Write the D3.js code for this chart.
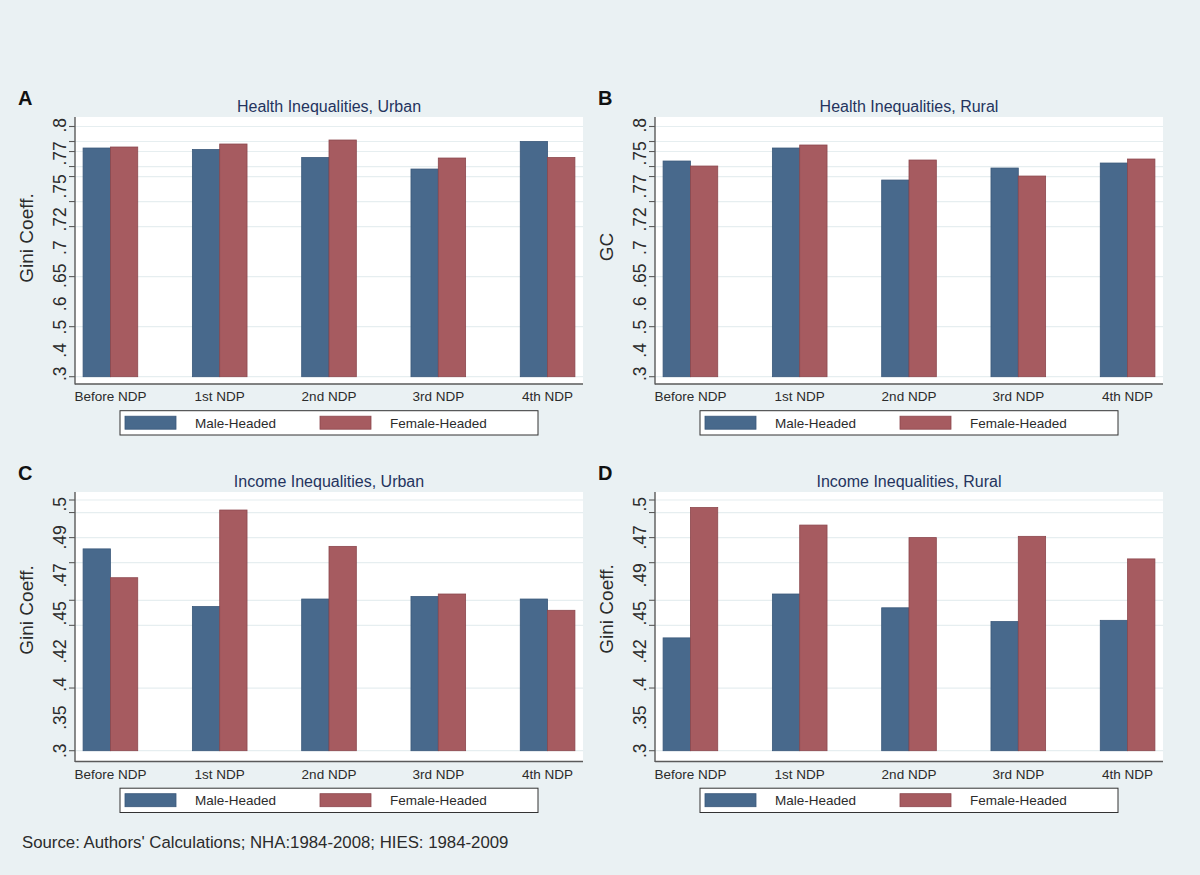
<!DOCTYPE html>
<html>
<head>
<meta charset="utf-8">
<script src="https://cdn.jsdelivr.net/npm/d3@7"></script>
<style>
  html, body { margin: 0; padding: 0; background: #eaf1f3; }
  svg { display: block; font-family: Arial, "Liberation Sans", Helvetica, sans-serif; }
</style>
</head>
<body>
<svg id="chart" width="1200" height="875"></svg>
<script>
// ---------------- DATA ----------------
const categories = ["Before NDP", "1st NDP", "2nd NDP", "3rd NDP", "4th NDP"];
const seriesNames = ["Male-Headed", "Female-Headed"];

const healthUrbanMale   = [0.757, 0.754, 0.738, 0.715, 0.770];
const healthUrbanFemale = [0.759, 0.765, 0.773, 0.737, 0.738];
const healthRuralMale   = [0.731, 0.757, 0.693, 0.717, 0.727];
const healthRuralFemale = [0.721, 0.763, 0.733, 0.701, 0.735];
const incomeUrbanMale   = [0.461, 0.415, 0.421, 0.423, 0.421];
const incomeUrbanFemale = [0.438, 0.492, 0.463, 0.425, 0.412];
const incomeRuralMale   = [0.390, 0.425, 0.414, 0.403, 0.404];
const incomeRuralFemale = [0.494, 0.480, 0.470, 0.471, 0.453];

const healthTickValues = [0.3, 0.4, 0.5, 0.6, 0.65, 0.7, 0.72, 0.75, 0.77, 0.8];
const healthTickLabelsA = [".3", ".4", ".5", ".6", ".65", ".7", ".72", ".75", ".77", ".8"];
const healthTickLabelsB = [".3", ".4", ".5", ".6", ".65", ".7", ".72", ".77", ".75", ".8"];
const incomeTickValues = [0.3, 0.35, 0.4, 0.42, 0.45, 0.47, 0.49, 0.5];
const incomeTickLabelsC = [".3", ".35", ".4", ".42", ".45", ".47", ".49", ".5"];
const incomeTickLabelsD = [".3", ".35", ".4", ".42", ".45", ".49", ".47", ".5"];

const panelLetters = ["A", "B", "C", "D"];
const panelTitles = ["Health Inequalities, Urban", "Health Inequalities, Rural",
                     "Income Inequalities, Urban", "Income Inequalities, Rural"];
const yTitles = ["Gini Coeff.", "GC", "Gini Coeff.", "Gini Coeff."];
const sourceNote = "Source: Authors' Calculations; NHA:1984-2008; HIES: 1984-2009";

// ---------------- STYLE / LAYOUT ----------------
const colors = ["#48698c", "#a65b60"];
const strokes = ["#3a587a", "#8c474d"];
const titleColor = "#24345e";

const panels = [
  { letter: panelLetters[0], title: panelTitles[0], ytitle: yTitles[0], male: healthUrbanMale, female: healthUrbanFemale,
    domain: [0.3, 0.8], ticks: healthTickValues, labels: healthTickLabelsA,
    left: 75, right: 583, top: 117, bottom: 384, yLo: 376.7, yHi: 126.5, labLo: 381, labHi: 118, ytitleY: 238 },
  { letter: panelLetters[1], title: panelTitles[1], ytitle: yTitles[1], male: healthRuralMale, female: healthRuralFemale,
    domain: [0.3, 0.8], ticks: healthTickValues, labels: healthTickLabelsB,
    left: 655, right: 1163, top: 117, bottom: 384, yLo: 376.7, yHi: 126.5, labLo: 381, labHi: 118, ytitleY: 247 },
  { letter: panelLetters[2], title: panelTitles[2], ytitle: yTitles[2], male: incomeUrbanMale, female: incomeUrbanFemale,
    domain: [0.3, 0.5], ticks: incomeTickValues, labels: incomeTickLabelsC,
    left: 75, right: 583, top: 492, bottom: 761.5, yLo: 750.7, yHi: 500, labLo: 758, labHi: 497, ytitleY: 610 },
  { letter: panelLetters[3], title: panelTitles[3], ytitle: yTitles[3], male: incomeRuralMale, female: incomeRuralFemale,
    domain: [0.3, 0.5], ticks: incomeTickValues, labels: incomeTickLabelsD,
    left: 655, right: 1163, top: 492, bottom: 761.5, yLo: 750.7, yHi: 500, labLo: 758, labHi: 497, ytitleY: 609 }
];

const svg = d3.select("#chart");
svg.append("rect").attr("width", 1200).attr("height", 875).attr("fill", "#eaf1f3");

panels.forEach(p => {
  const g = svg.append("g");
  const x = d3.scalePoint().domain(categories).range([p.left, p.right]).padding(0.324);
  const y = d3.scaleLinear().domain(p.domain).range([p.yLo, p.yHi]);
  const bw = x.step() * 0.25;

  // plot region
  g.append("rect").attr("x", p.left).attr("y", p.top)
    .attr("width", p.right - p.left).attr("height", p.bottom - p.top).attr("fill", "#ffffff");

  // gridlines
  g.selectAll(".grid").data(p.ticks).enter().append("line")
    .attr("x1", p.left).attr("x2", p.right)
    .attr("y1", d => y(d)).attr("y2", d => y(d))
    .attr("stroke", "#e6eef0").attr("stroke-width", 1.2);

  // bars
  const rows = categories.map((c, i) => ({ c, vals: [p.male[i], p.female[i]] }));
  rows.forEach(r => {
    r.vals.forEach((v, k) => {
      g.append("rect")
        .attr("x", x(r.c) - bw + k * bw)
        .attr("y", y(v))
        .attr("width", bw)
        .attr("height", y(p.domain[0]) - y(v))
        .attr("fill", colors[k])
        .attr("stroke", strokes[k]).attr("stroke-width", 0.8);
    });
  });

  // y axis line + ticks
  g.append("line").attr("x1", p.left).attr("x2", p.left).attr("y1", p.top).attr("y2", p.bottom + 0.5)
    .attr("stroke", "#5a5a5a").attr("stroke-width", 1.4);
  g.append("line").attr("x1", p.left).attr("x2", p.right).attr("y1", p.bottom).attr("y2", p.bottom)
    .attr("stroke", "#5a5a5a").attr("stroke-width", 1.4);
  g.selectAll(".tk").data(p.ticks).enter().append("line")
    .attr("x1", p.left - 6).attr("x2", p.left)
    .attr("y1", d => y(d)).attr("y2", d => y(d))
    .attr("stroke", "#5a5a5a").attr("stroke-width", 1.1);

  // y tick labels (rotated, laid out sequentially along the axis like the reference)
  const labs = g.selectAll(".yl").data(p.labels).enter().append("text")
    .attr("font-size", 17.5).attr("fill", "#2b2b2b")
    .text(d => d);
  const widths = [];
  labs.each(function () { widths.push(this.getComputedTextLength()); });
  const total = d3.sum(widths);
  const gap = ((p.labLo - p.labHi) - total) / (p.labels.length - 1);
  let cur = p.labLo;
  labs.each(function (d, i) {
    d3.select(this).attr("transform", `translate(${p.left - 9},${cur}) rotate(-90)`);
    cur -= widths[i] + gap;
  });

  // x category labels
  g.selectAll(".xl").data(categories).enter().append("text")
    .attr("x", d => x(d)).attr("y", p.bottom + 17)
    .attr("text-anchor", "middle").attr("font-size", 13.5).attr("fill", "#2b2b2b")
    .text(d => d);

  // y title
  g.append("text")
    .attr("transform", `translate(${p.left - 42},${p.ytitleY}) rotate(-90)`)
    .attr("text-anchor", "middle").attr("font-size", 19).attr("fill", "#2b2b2b")
    .text(p.ytitle);

  // panel title
  g.append("text").attr("x", (p.left + p.right) / 2).attr("y", p.top - 5)
    .attr("text-anchor", "middle").attr("font-size", 16).attr("fill", titleColor)
    .text(p.title);

  // panel letter
  g.append("text").attr("x", p.left - 57).attr("y", p.top - 12)
    .attr("font-size", 20).attr("font-weight", "bold").attr("fill", "#111")
    .text(p.letter);

  // legend
  const lx = p.left + 45, ly = p.bottom + 26.7;
  g.append("rect").attr("x", lx).attr("y", ly).attr("width", 418).attr("height", 24.3)
    .attr("fill", "#ffffff").attr("stroke", "#333").attr("stroke-width", 1);
  seriesNames.forEach((s, k) => {
    g.append("rect").attr("x", lx + 5 + k * 195).attr("y", ly + 5.5).attr("width", 51).attr("height", 13)
      .attr("fill", colors[k]).attr("stroke", strokes[k]).attr("stroke-width", 0.8);
    g.append("text").attr("x", lx + 75 + k * 195).attr("y", ly + 17)
      .attr("font-size", 13.5).attr("fill", "#2b2b2b").text(s);
  });
});

svg.append("text").attr("x", 22).attr("y", 848).attr("font-size", 16.8).attr("fill", "#2b2b2b")
  .text(sourceNote);
</script>
</body>
</html>
